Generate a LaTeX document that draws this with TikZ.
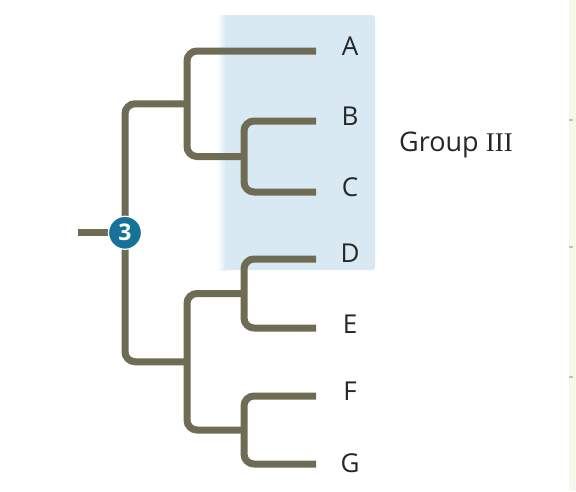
\documentclass[tikz,border=0pt]{standalone}
\usepackage{fontspec}
\setmainfont{Open Sans}
\newfontfamily\numfont{Liberation Serif}
\definecolor{branchcol}{HTML}{6E6C55}
\definecolor{boxcol}{HTML}{D9E9F3}
\definecolor{circcol}{HTML}{17729A}
\definecolor{stripcol}{HTML}{F7F7EC}
\begin{document}
\begin{tikzpicture}[x=1pt,y=-1pt,
  branch/.style={line width=7pt,draw=branchcol,line cap=butt,rounded corners=10pt},
  leaflabel/.style={font=\fontsize{26}{30}\selectfont,text=black!85,inner sep=0pt},
  numcirc/.style={circle,fill=circcol,draw=white,line width=1.2pt,minimum size=33pt,inner sep=0pt,text=white,font=\fontsize{23}{25}\selectfont\bfseries}]
\useasboundingbox (0,0) rectangle (576,491);
\fill[white] (0,0) rectangle (576,491);
% right page strip
\fill[stripcol] (569,0) rectangle (576,491);
\foreach \ty in {120,247,377} \fill[gray!50] (569,\ty-1) rectangle (573,\ty+1);
% highlight box
\fill[boxcol,rounded corners=3pt] (219,15) rectangle (375,270);
\shade[left color=white,right color=boxcol] (217,15) rectangle (226,270);
% leaf end coordinates
\coordinate (eA) at (316,51);
\coordinate (eB) at (316,121);
\coordinate (eC) at (316,192);
\coordinate (eD) at (316,259);
\coordinate (eE) at (316,328);
\coordinate (eF) at (316,396);
\coordinate (eG) at (316,464);
% junctions
\coordinate (jBC) at (244,156.5);
\coordinate (jABC) at (187,103.75);
\coordinate (jDE) at (244,293.5);
\coordinate (jFG) at (244,430);
\coordinate (jDEFG) at (187,361.75);
\coordinate (stem) at (78,232.75);
% labels
\node[leaflabel] (A) at (350,46) {A};
\node[leaflabel] (B) at (350,116) {B};
\node[leaflabel] (C) at (350,187) {C};
\node[leaflabel] (D) at (350,253) {D};
\node[leaflabel] (E) at (350,324) {E};
\node[leaflabel] (F) at (350,391) {F};
\node[leaflabel] (G) at (350,463) {G};
\node[leaflabel,font=\fontsize{27}{30}\selectfont] (grp) at (456,145) {Group {\numfont III}};
% branches
\draw[branch] (eB) -| (jBC) |- (eC);
\draw[branch] (eA) -| (jABC) |- (jBC);
\draw[branch] (eD) -| (jDE) |- (eE);
\draw[branch] (eF) -| (jFG) |- (eG);
\draw[branch] (jDE) -| (jDEFG) |- (jFG);
\node[inner sep=0pt] (root) at (125,232.75) {};
\draw[branch] (jABC) -| (root.center) |- (jDEFG);
\draw[branch] (stem) -- (root.center);
\node[numcirc] (n3) at (root) {3};
\end{tikzpicture}
\end{document}
